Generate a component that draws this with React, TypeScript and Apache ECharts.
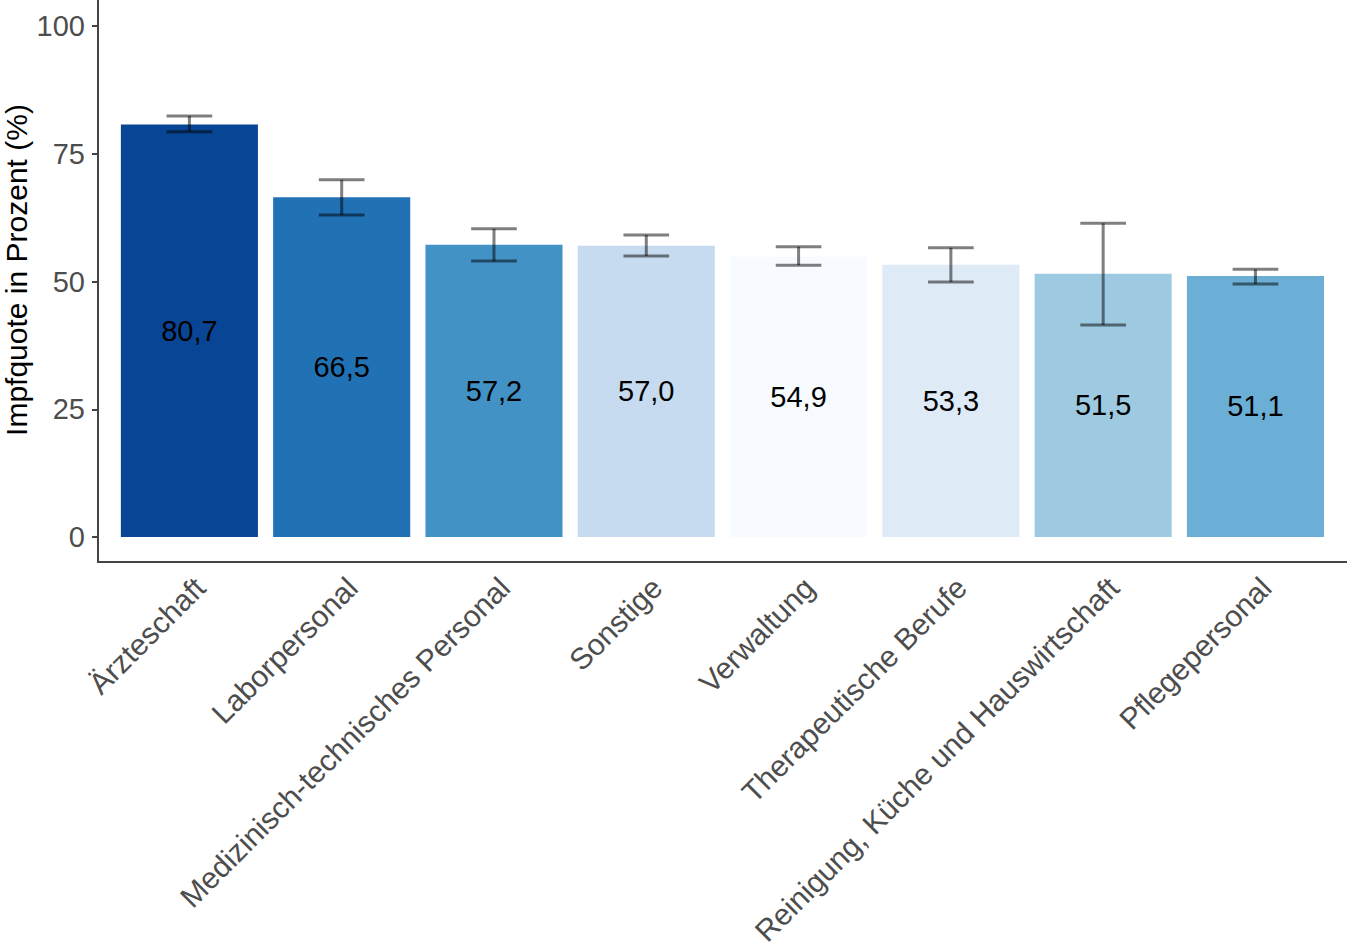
import React, { useEffect, useRef } from "react";
import * as echarts from "echarts";

// categories in the order they appear on the x axis
const categories = [
    "Ärzteschaft",
    "Laborpersonal",
    "Medizinisch-technisches Personal",
    "Sonstige",
    "Verwaltung",
    "Therapeutische Berufe",
    "Reinigung, Küche und Hauswirtschaft",
    "Pflegepersonal",
];

const rates = [80.7, 66.5, 57.2, 57.0, 54.9, 53.3, 51.5, 51.1];
const lower = [79.3, 63.0, 54.0, 55.0, 53.2, 49.9, 41.5, 49.5];
const upper = [82.4, 69.9, 60.3, 59.1, 56.8, 56.6, 61.4, 52.4];

const barColors = ["#084594", "#2171B5", "#4292C6", "#C6DBEF", "#F7FBFF", "#DEEBF7", "#9ECAE1", "#6BAED6"];

const yTicks = [0, 25, 50, 75, 100];

const FONT = "'Liberation Sans', Arial, sans-serif";
const AXIS_COLOR = "#444444";
const TEXT_GREY = "#4D4D4D";

export default function App() {
    const chartRef = useRef<HTMLDivElement>(null);

    useEffect(() => {
        document.body.style.margin = "0";
        if (chartRef.current === null) return;
        const chart = echarts.init(chartRef.current, undefined, { renderer: "svg" });

        const option: echarts.EChartsOption = {
            animation: false,
            textStyle: { fontFamily: FONT },
            grid: [
                // data panel
                { left: 113.25, right: 15.4, top: 26, bottom: 411, outerBoundsMode: "none" } as any,
                // frame (axis lines)
                { left: 98, right: 0, top: 0, bottom: 386, outerBoundsMode: "none" } as any,
            ],
            xAxis: [
                {
                    type: "category",
                    gridIndex: 0,
                    data: categories,
                    offset: 25,
                    axisLine: { show: false },
                    axisTick: { show: false },
                    axisLabel: {
                        interval: 0,
                        rotate: 45,
                        margin: 10,
                        verticalAlign: "top",
                        fontSize: 30,
                        color: TEXT_GREY,
                        fontFamily: FONT,
                    },
                },
                {
                    type: "value",
                    gridIndex: 1,
                    min: 0,
                    max: 1,
                    axisLine: { show: true, onZero: false, lineStyle: { color: AXIS_COLOR, width: 2 } },
                    axisTick: { show: false },
                    axisLabel: { show: false },
                    splitLine: { show: false },
                },
            ],
            yAxis: [
                {
                    type: "value",
                    gridIndex: 0,
                    min: yTicks[0],
                    max: yTicks[yTicks.length - 1],
                    interval: 25,
                    offset: 15.25,
                    axisLine: { show: false },
                    axisTick: { show: true, length: 6, lineStyle: { color: AXIS_COLOR, width: 2 } },
                    axisLabel: { margin: 13, fontSize: 29, color: TEXT_GREY, fontFamily: FONT },
                    splitLine: { show: false },
                },
                {
                    type: "value",
                    gridIndex: 1,
                    min: 0,
                    max: 1,
                    name: "Impfquote in Prozent (%)",
                    nameLocation: "middle",
                    nameGap: 67,
                    nameTextStyle: { fontSize: 30, color: "#000", fontFamily: FONT, padding: [0, 0, 0, 22] },
                    axisLine: { show: true, onZero: false, lineStyle: { color: AXIS_COLOR, width: 2 } },
                    axisTick: { show: false },
                    axisLabel: { show: false },
                    splitLine: { show: false },
                },
            ],
            series: [
                {
                    type: "bar",
                    xAxisIndex: 0,
                    yAxisIndex: 0,
                    barWidth: "90%",
                    data: rates.map((v, i) => ({ value: v, itemStyle: { color: barColors[i] } })),
                    label: {
                        show: true,
                        position: "inside",
                        fontSize: 29,
                        color: "#000",
                        fontFamily: FONT,
                        formatter: (p: any) => p.value.toFixed(1).replace(".", ","),
                    },
                },
                {
                    type: "custom",
                    xAxisIndex: 0,
                    yAxisIndex: 0,
                    z: 5,
                    data: categories.map((_, i) => [i, lower[i], upper[i]]),
                    renderItem: (_params: any, api: any) => {
                        const x = api.value(0);
                        const lo = api.coord([x, api.value(1)]);
                        const hi = api.coord([x, api.value(2)]);
                        const half = api.size([1, 0])[0] * 0.15;
                        const style = { stroke: "rgba(0,0,0,0.5)", lineWidth: 3 };
                        return {
                            type: "group",
                            children: [
                                { type: "line", shape: { x1: hi[0] - half, y1: hi[1], x2: hi[0] + half, y2: hi[1] }, style },
                                { type: "line", shape: { x1: hi[0], y1: hi[1], x2: lo[0], y2: lo[1] }, style },
                                { type: "line", shape: { x1: lo[0] - half, y1: lo[1], x2: lo[0] + half, y2: lo[1] }, style },
                            ],
                        };
                    },
                },
            ],
        };

        chart.setOption(option);
        return () => {
            chart.dispose();
        };
    }, []);

    return <div ref={chartRef} style={{ width: "1347px", height: "948px" }} />;
}
